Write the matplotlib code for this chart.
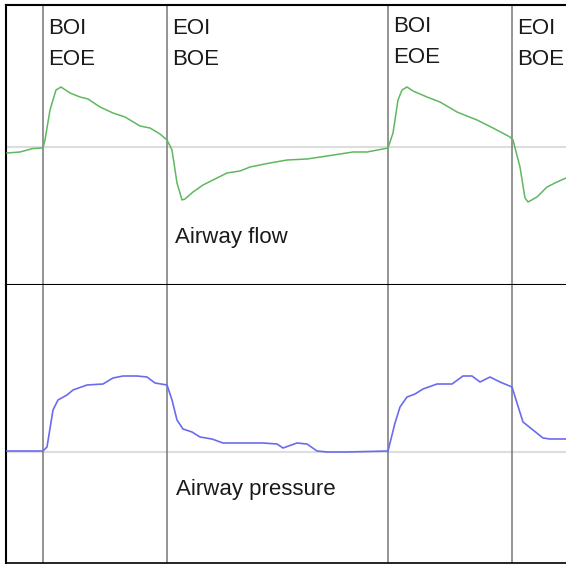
import matplotlib.pyplot as plt

plt.rcParams['font.family'] = ['Liberation Sans', 'DejaVu Sans']

# sample positions and signal values (arbitrary units, 0 = baseline)
t_flow = [7, 20, 33, 43, 45, 50, 56, 61, 70, 80, 88, 100, 113, 125, 140, 150, 160, 167,
          172, 177, 182, 185, 193, 203, 217, 227, 240, 250, 270, 287, 307, 327, 353, 367, 388,
          393, 398, 402, 407, 413, 427, 440, 457, 477, 493, 510, 513,
          520, 525, 528, 537, 547, 557, 566]
flow = [-6, -5, -1.5, -1, 7, 37, 57, 60, 54, 50, 48, 40, 34, 30, 21, 19, 13, 7,
        -3, -36, -53, -52, -45, -38, -31, -26, -24, -20, -16, -13, -12, -9, -5, -5, -1,
        14, 47, 57, 60, 56, 50, 45, 35, 27, 19, 10, 7,
        -20, -51, -55, -50, -40, -35, -31]

t_pres = [7, 43, 47, 53, 58, 67, 73, 87, 103, 113, 123, 137, 147, 155, 167,
          172, 177, 183, 192, 200, 212, 223, 263, 277, 283, 297, 307, 317, 327, 347, 388,
          395, 400, 407, 415, 423, 437, 452, 463, 472, 480, 490, 500, 512,
          517, 523, 533, 543, 550, 566]
pres = [1, 1, 5, 42, 52, 57, 62, 67, 68, 74, 76, 76, 75, 69, 67,
        52, 32, 23, 20, 15, 13, 9, 9, 8, 4, 9, 8, 1, 0, 0, 1,
        29, 45, 55, 58, 63, 68, 68, 76, 76, 70, 75, 70, 65,
        49, 30, 22, 14, 13, 13]

# breath events: begin / end of inspiration
events = [43, 167, 388, 512]
event_labels = [("BOI", "EOE"), ("EOI", "BOE"), ("BOI", "EOE"), ("EOI", "BOE")]

fig = plt.figure(figsize=(5.66, 5.64), dpi=100)
W, H = 566, 564
ax1 = fig.add_axes([6 / W, 1 - 285 / H, 560 / W, 280 / H])
ax2 = fig.add_axes([6 / W, 1 - 563 / H, 560 / W, 278 / H])

ax1.set_ylim(-138, 142)
ax2.set_ylim(-111, 167)

for ax in (ax1, ax2):
    ax.set_xlim(6, 566)
    ax.set_xticks([])
    ax.set_yticks([])
    ax.spines['right'].set_visible(False)
    for s in ('left', 'top', 'bottom'):
        ax.spines[s].set_color('black')
        ax.spines[s].set_linewidth(1.5)
    ax.axhline(0, color='#dddddd', lw=1.5, zorder=1)
    for e in events:
        ax.axvline(e, color='#777777', lw=1.1, zorder=2)

ax2.spines['top'].set_visible(False)
ax2.spines['bottom'].set_linewidth(1.2)

ax1.plot(t_flow, flow, color='#5fb85f', lw=1.1, zorder=3)
ax2.plot(t_pres, pres, color='#6b6bf0', lw=1.2, zorder=3)

label_y = [(113, 82), (113, 82), (115, 84), (113, 82)]
for e, (a, b), (ya, yb) in zip(events, event_labels, label_y):
    ax1.text(e + 5, ya, a, fontsize=16, color='#1a1a1a', va='baseline')
    ax1.text(e + 5, yb, b, fontsize=16, color='#1a1a1a', va='baseline')

ax1.text(175, -96, "Airway flow", fontsize=16, color='#1a1a1a', va='baseline')
ax2.text(176, -43, "Airway pressure", fontsize=16, color='#1a1a1a', va='baseline')

fig.savefig("out.png", dpi=100)
